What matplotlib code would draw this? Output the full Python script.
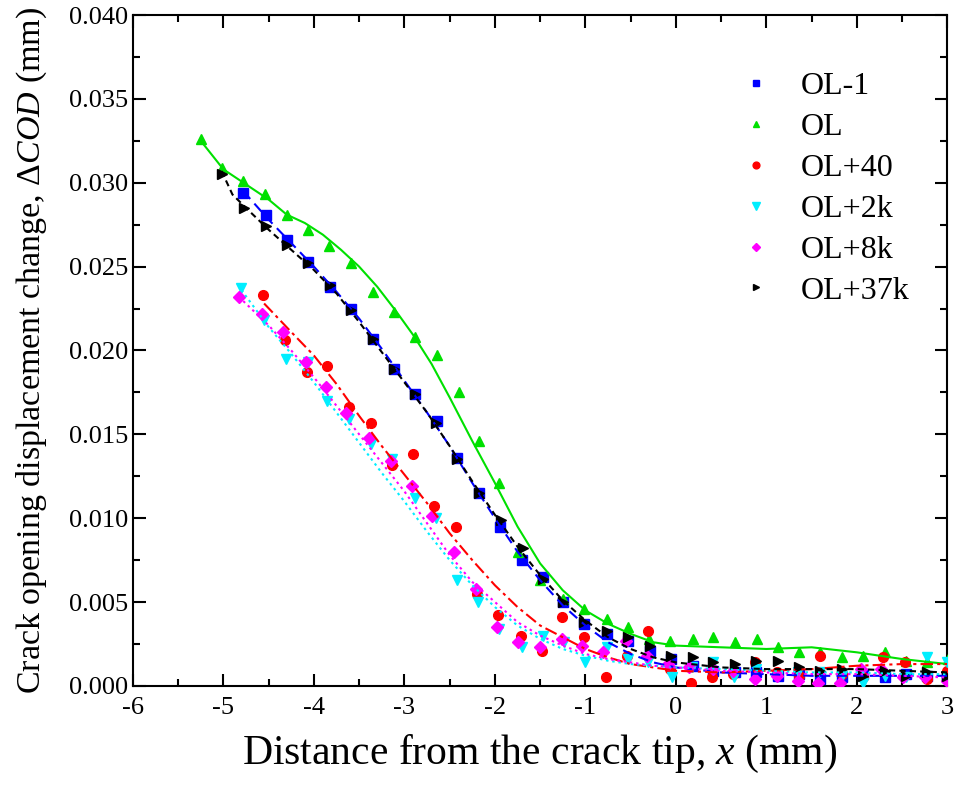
import numpy as np
import matplotlib
matplotlib.use('Agg')
import matplotlib.pyplot as plt
from matplotlib.ticker import MultipleLocator, FormatStrFormatter

plt.rcParams['font.family'] = ['Liberation Serif', 'DejaVu Serif']
plt.rcParams['mathtext.fontset'] = 'custom'
plt.rcParams['mathtext.rm'] = 'Liberation Serif'
plt.rcParams['mathtext.it'] = 'Liberation Serif:italic'
plt.rcParams['axes.unicode_minus'] = False

# measured points (x in mm, dCOD in mm)
ol1_x = [-4.78, -4.53, -4.30, -4.07, -3.82, -3.59, -3.35, -3.12, -2.88, -2.64, -2.42, -2.18,
         -1.94, -1.70, -1.47, -1.25, -1.01, -0.76, -0.53, -0.29, -0.05, 0.19, 0.41, 0.65,
         0.89, 1.13, 1.36, 1.59, 1.83, 2.07, 2.31, 2.54, 2.77, 3.00]
ol1_y = [0.0294, 0.0281, 0.0266, 0.0253, 0.0238, 0.0225, 0.0207, 0.0189, 0.0174, 0.0158, 0.0136, 0.0115,
         0.0095, 0.0075, 0.0065, 0.0050, 0.0037, 0.0031, 0.0027, 0.0021, 0.0016, 0.0012, 0.0009, 0.0008,
         0.0008, 0.0006, 0.0007, 0.0004, 0.0005, 0.0007, 0.0005, 0.0007, 0.0006, 0.0005]

ol_x = [-5.25, -5.01, -4.78, -4.54, -4.30, -4.06, -3.83, -3.59, -3.35, -3.12, -2.88, -2.64,
        -2.40, -2.18, -1.96, -1.75, -1.50, -1.25, -1.01, -0.76, -0.53, -0.30, -0.06, 0.19,
        0.41, 0.65, 0.90, 1.13, 1.36, 1.59, 1.83, 2.07, 2.31, 2.54, 2.77, 3.01]
ol_y = [0.0326, 0.0309, 0.0301, 0.0293, 0.0281, 0.0272, 0.0262, 0.0252, 0.0235, 0.0223, 0.0208, 0.0197,
        0.0175, 0.0146, 0.0121, 0.0080, 0.0063, 0.0052, 0.0046, 0.0040, 0.0035, 0.0028, 0.0027, 0.0028,
        0.0029, 0.0026, 0.0028, 0.0023, 0.0020, 0.0020, 0.0017, 0.0018, 0.0020, 0.0015, 0.0014, 0.0016]

ol40_x = [-4.56, -4.32, -4.08, -3.85, -3.61, -3.37, -3.14, -2.91, -2.67, -2.43, -2.20, -1.97,
          -1.71, -1.48, -1.26, -1.02, -0.77, -0.54, -0.31, -0.07, 0.17, 0.40, 0.63, 0.87,
          1.12, 1.36, 1.59, 1.83, 2.07, 2.29, 2.53, 2.77, 3.00]
ol40_y = [0.0233, 0.0206, 0.0187, 0.0191, 0.0166, 0.0157, 0.0132, 0.0138, 0.0107, 0.0095, 0.0055, 0.0042,
          0.0030, 0.0021, 0.0041, 0.0029, 0.0005, 0.0018, 0.0033, 0.0010, 0.0002, 0.0005, 0.0007, 0.0014,
          0.0008, 0.0006, 0.0018, 0.0007, 0.0005, 0.0017, 0.0014, 0.0004, 0.0009]

ol2k_x = [-4.80, -4.55, -4.31, -4.07, -3.85, -3.61, -3.37, -3.14, -2.88, -2.65, -2.42, -2.19,
          -1.96, -1.70, -1.47, -1.24, -1.00, -0.76, -0.53, -0.31, -0.04, 0.18, 0.41, 0.64,
          0.88, 1.12, 1.35, 1.59, 1.83, 2.07, 2.31, 2.54, 2.77, 3.00]
ol2k_y = [0.0237, 0.0218, 0.0195, 0.0193, 0.0170, 0.0159, 0.0144, 0.0135, 0.0112, 0.0100, 0.0063, 0.0050,
          0.0034, 0.0023, 0.0030, 0.0026, 0.0014, 0.0023, 0.0016, 0.0014, 0.0005, 0.0011, 0.0014, 0.0005,
          0.0010, 0.0005, 0.0008, 0.0008, 0.0006, 0.0002, 0.0006, 0.0005, 0.0017, 0.0014]

ol8k_x = [-4.83, -4.57, -4.34, -4.09, -3.87, -3.64, -3.39, -3.15, -2.92, -2.70, -2.45, -2.21,
          -1.98, -1.75, -1.50, -1.26, -1.04, -0.81, -0.55, -0.32, -0.09, 0.15, 0.41, 0.63,
          0.87, 1.12, 1.35, 1.57, 1.81, 2.05, 2.27, 2.51, 2.75, 3.00]
ol8k_y = [0.0232, 0.0222, 0.0211, 0.0193, 0.0178, 0.0163, 0.0148, 0.0134, 0.0119, 0.0101, 0.0080, 0.0058,
          0.0035, 0.0026, 0.0023, 0.0028, 0.0024, 0.0020, 0.0027, 0.0018, 0.0013, 0.0011, 0.0010, 0.0009,
          0.0004, 0.0006, 0.0003, 0.0002, 0.0002, 0.0010, 0.0010, 0.0005, 0.0005, 0.0003]

ol37k_x = [-5.02, -4.77, -4.53, -4.30, -4.07, -3.82, -3.59, -3.35, -3.12, -2.88, -2.65, -2.42,
           -2.18, -1.93, -1.69, -1.47, -1.25, -1.01, -0.76, -0.53, -0.29, -0.05, 0.19, 0.41,
           0.65, 0.89, 1.13, 1.36, 1.59, 1.83, 2.07, 2.31, 2.54, 2.77, 3.00]
ol37k_y = [0.0305, 0.0285, 0.0274, 0.0263, 0.0252, 0.0239, 0.0224, 0.0207, 0.0189, 0.0174, 0.0157, 0.0135,
           0.0115, 0.0099, 0.0082, 0.0064, 0.0050, 0.0038, 0.0033, 0.0029, 0.0024, 0.0018, 0.0017, 0.0014,
           0.0013, 0.0015, 0.0015, 0.0011, 0.0009, 0.0010, 0.0006, 0.0009, 0.0006, 0.0008, 0.0006]

# fitted curves
fit_x = [-4.75, -4.5, -4.25, -4.0, -3.75, -3.5, -3.25, -3.0, -2.75, -2.5, -2.25, -2.0,
         -1.75, -1.5, -1.25, -1.0, -0.75, -0.5, -0.25, 0.0, 0.5, 1.0, 1.5, 2.0, 2.5, 3.0]

ol_fit_x = [-5.25, -5.0, -4.75, -4.5, -4.3, -4.1, -3.9, -3.7, -3.5, -3.3, -3.1, -2.9, -2.7, -2.5, -2.25,
            -2.0, -1.75, -1.5, -1.25, -1.0, -0.75, -0.5, -0.25, 0.0, 0.5, 1.0, 1.5, 2.0, 2.5, 3.0]
ol_fit_y = [0.0325, 0.0308, 0.0299, 0.0290, 0.0281, 0.0276, 0.0269, 0.0260, 0.0250, 0.0238, 0.0224, 0.0209,
            0.0192, 0.0172, 0.0146, 0.0121, 0.0095, 0.0073, 0.0057, 0.0045, 0.0037, 0.0031, 0.0026, 0.0024,
            0.0023, 0.0022, 0.0023, 0.0020, 0.0016, 0.0013]

ol1_fit_x = [-4.78] + fit_x[1:]
ol1_fit_y = [0.0295, 0.0278, 0.0264, 0.0250, 0.0235, 0.0219, 0.0201, 0.0182, 0.0163, 0.0143, 0.0121,
             0.0100, 0.0080, 0.0063, 0.0048, 0.0036, 0.0026, 0.0019, 0.0014, 0.0011, 0.0008, 0.0007,
             0.0006, 0.0006, 0.0006, 0.0006]

ol37k_fit_x = [-5.02, -4.9] + fit_x
ol37k_fit_y = [0.0307, 0.0293, 0.0285, 0.0272, 0.0260, 0.0248, 0.0234, 0.0217, 0.0199, 0.0181, 0.0163,
               0.0143, 0.0122, 0.0102, 0.0083, 0.0066, 0.0051, 0.0039, 0.0029, 0.0022, 0.0017, 0.0014,
               0.0011, 0.0010, 0.0010, 0.0010, 0.0009, 0.0008]

ol40_fit_x = [-4.55] + fit_x[2:]
ol40_fit_y = [0.0228, 0.0211, 0.0197, 0.0180, 0.0161, 0.0143, 0.0126, 0.0109, 0.0091, 0.0075, 0.0060,
              0.0047, 0.0036, 0.0029, 0.0022, 0.0017, 0.0013, 0.0011, 0.0009, 0.0008, 0.0009, 0.0010,
              0.0012, 0.0013, 0.0013]

ol2k_fit_x = [-4.80] + fit_x[1:]
ol2k_fit_y = [0.0236, 0.0214, 0.0198, 0.0181, 0.0163, 0.0145, 0.0127, 0.0110, 0.0092, 0.0075, 0.0060,
              0.0047, 0.0036, 0.0028, 0.0022, 0.0018, 0.0015, 0.0013, 0.0012, 0.0011, 0.0010, 0.0009,
              0.0008, 0.0008, 0.0007, 0.0007]

ol8k_fit_x = [-4.83] + fit_x[1:]
ol8k_fit_y = [0.0232, 0.0215, 0.0200, 0.0184, 0.0167, 0.0150, 0.0133, 0.0116, 0.0097, 0.0078, 0.0062,
              0.0050, 0.0038, 0.0030, 0.0024, 0.0019, 0.0016, 0.0014, 0.0012, 0.0011, 0.0009, 0.0008,
              0.0007, 0.0007, 0.0006, 0.0005]

labels = ['OL-1', 'OL', 'OL+40', 'OL+2k', 'OL+8k', 'OL+37k']
colors = ['#0000ff', '#00e000', '#ff0000', '#00eeff', '#ff00ff', '#000000']
markers = ['s', '^', 'o', 'v', 'D', '>']
sizes = [6.5, 7, 7, 7.5, 6, 7]
lstyles = [(0, (5, 3)), '-', (0, (6, 2, 1.5, 2)), (0, (1.2, 1.8)), (0, (1.2, 1.8)), (0, (3, 2))]

pts = [(ol1_x, ol1_y), (ol_x, ol_y), (ol40_x, ol40_y), (ol2k_x, ol2k_y), (ol8k_x, ol8k_y), (ol37k_x, ol37k_y)]
fits = [(ol1_fit_x, ol1_fit_y), (ol_fit_x, ol_fit_y), (ol40_fit_x, ol40_fit_y),
        (ol2k_fit_x, ol2k_fit_y), (ol8k_fit_x, ol8k_fit_y), (ol37k_fit_x, ol37k_fit_y)]

fig = plt.figure(figsize=(9.56, 7.92), dpi=100)
ax = fig.add_axes([0.139, 0.134, 0.852, 0.847])

for i in range(6):
    ax.plot(pts[i][0], pts[i][1], linestyle='none', marker=markers[i], ms=sizes[i],
            color=colors[i], mec=colors[i], label=labels[i], zorder=3)
for i in range(6):
    ax.plot(fits[i][0], fits[i][1], linestyle=lstyles[i], color=colors[i], lw=1.5, zorder=4)

ax.set_xlim(-6, 3)
ax.set_ylim(0, 0.04)
ax.xaxis.set_major_locator(MultipleLocator(1))
ax.xaxis.set_minor_locator(MultipleLocator(0.5))
ax.yaxis.set_major_locator(MultipleLocator(0.005))
ax.yaxis.set_minor_locator(MultipleLocator(0.0025))
ax.yaxis.set_major_formatter(FormatStrFormatter('%.3f'))
ax.tick_params(which='both', direction='in', top=True, right=True, width=1.5, labelsize=19)
ax.tick_params(which='major', length=9)
ax.tick_params(which='minor', length=5)
ax.tick_params(axis='x', pad=8)
for s in ax.spines.values():
    s.set_linewidth(1.5)

ax.set_xlabel('Distance from the crack tip, $\\mathit{x}$ (mm)', fontsize=30, labelpad=10)
ax.set_ylabel('Crack opening displacement change, $\\mathit{ΔCOD}$ (mm)', fontsize=24.5, labelpad=14)

ax.legend(loc='upper left', bbox_to_anchor=(0.7, 0.958), frameon=False, fontsize=23,
          markerscale=0.7, handletextpad=0.65, labelspacing=0.36, handlelength=1.5)

fig.savefig('out.png', dpi=100)
